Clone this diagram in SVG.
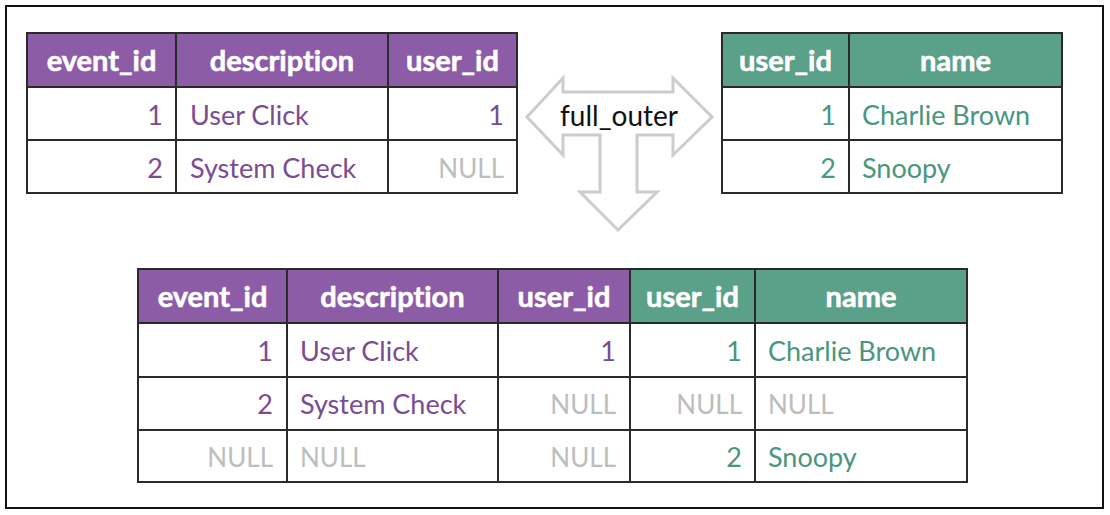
<svg xmlns="http://www.w3.org/2000/svg" width="1110" height="515" viewBox="0 0 1110 515">
<style>
.frame{fill:#fff;stroke:#111;stroke-width:2}
.cell{fill:#fff;stroke:#2a2a2a;stroke-width:2}
.hp{fill:#8c5ca6;stroke:#2a2a2a;stroke-width:2}
.hg{fill:#5ba088;stroke:#2a2a2a;stroke-width:2}
text{font-family:"Lato","Open Sans","Liberation Sans",sans-serif;font-size:27px;font-variant-ligatures:none}
.h{fill:#fff;font-weight:bold;text-anchor:middle;font-size:29px;stroke:#fff;stroke-width:0.6}
.p{fill:#7b4b94}
.g{fill:#489680}
.n{fill:#bdbdbd;font-size:26px}
.r{text-anchor:end}
.arrow{fill:#fff;stroke:#cccccc;stroke-width:3;stroke-linejoin:miter}
.lbl{fill:#111;text-anchor:middle;font-size:28px}
</style>
<rect class="frame" x="6" y="6" width="1097" height="502"/>

<g id="connectors">
<polygon class="arrow" points="527,117 563,78 563,92 673,92 673,78 712,117 673,155 673,135 637,135 637,192 657,192 618,230 580,192 600,192 600,135 563,135 563,155"/>
<text class="lbl" x="619" y="126">full_outer</text>
</g>

<g id="events">
<rect class="hp" x="27" y="33" width="149" height="54"/>
<rect class="hp" x="176" y="33" width="212" height="54"/>
<rect class="hp" x="388" y="33" width="129" height="54"/>
<rect class="cell" x="27" y="87" width="149" height="53"/>
<rect class="cell" x="176" y="87" width="212" height="53"/>
<rect class="cell" x="388" y="87" width="129" height="53"/>
<rect class="cell" x="27" y="140" width="149" height="53"/>
<rect class="cell" x="176" y="140" width="212" height="53"/>
<rect class="cell" x="388" y="140" width="129" height="53"/>
<text class="h" x="101.5" y="71">event_id</text>
<text class="h" x="282" y="71">description</text>
<text class="h" x="452.5" y="71">user_id</text>
<text class="p r" x="163" y="125">1</text>
<text class="p" x="190" y="125">User Click</text>
<text class="p r" x="504" y="125">1</text>
<text class="p r" x="163" y="178">2</text>
<text class="p" x="190" y="178">System Check</text>
<text class="n r" x="504" y="178">NULL</text>
</g>

<g id="users">
<rect class="hg" x="722" y="33" width="127" height="54"/>
<rect class="hg" x="849" y="33" width="213" height="54"/>
<rect class="cell" x="722" y="87" width="127" height="53"/>
<rect class="cell" x="849" y="87" width="213" height="53"/>
<rect class="cell" x="722" y="140" width="127" height="53"/>
<rect class="cell" x="849" y="140" width="213" height="53"/>
<text class="h" x="785.5" y="71">user_id</text>
<text class="h" x="955.5" y="71">name</text>
<text class="g r" x="836" y="125">1</text>
<text class="g" x="862" y="125">Charlie Brown</text>
<text class="g r" x="836" y="178">2</text>
<text class="g" x="862" y="178">Snoopy</text>
</g>

<g id="result">
<rect class="hp" x="138" y="269" width="149" height="54"/>
<rect class="hp" x="287" y="269" width="211" height="54"/>
<rect class="hp" x="498" y="269" width="132" height="54"/>
<rect class="hg" x="630" y="269" width="125" height="54"/>
<rect class="hg" x="755" y="269" width="212" height="54"/>
<rect class="cell" x="138" y="323" width="149" height="54"/>
<rect class="cell" x="287" y="323" width="211" height="54"/>
<rect class="cell" x="498" y="323" width="132" height="54"/>
<rect class="cell" x="630" y="323" width="125" height="54"/>
<rect class="cell" x="755" y="323" width="212" height="54"/>
<rect class="cell" x="138" y="377" width="149" height="53"/>
<rect class="cell" x="287" y="377" width="211" height="53"/>
<rect class="cell" x="498" y="377" width="132" height="53"/>
<rect class="cell" x="630" y="377" width="125" height="53"/>
<rect class="cell" x="755" y="377" width="212" height="53"/>
<rect class="cell" x="138" y="430" width="149" height="52"/>
<rect class="cell" x="287" y="430" width="211" height="52"/>
<rect class="cell" x="498" y="430" width="132" height="52"/>
<rect class="cell" x="630" y="430" width="125" height="52"/>
<rect class="cell" x="755" y="430" width="212" height="52"/>
<text class="h" x="212.5" y="307">event_id</text>
<text class="h" x="392.5" y="307">description</text>
<text class="h" x="564" y="307">user_id</text>
<text class="h" x="692.5" y="307">user_id</text>
<text class="h" x="861" y="307">name</text>
<text class="p r" x="273" y="361">1</text>
<text class="p" x="300" y="361">User Click</text>
<text class="p r" x="616" y="361">1</text>
<text class="g r" x="742" y="361">1</text>
<text class="g" x="768" y="361">Charlie Brown</text>
<text class="p r" x="273" y="414">2</text>
<text class="p" x="300" y="414">System Check</text>
<text class="n r" x="616" y="414">NULL</text>
<text class="n r" x="742" y="414">NULL</text>
<text class="n" x="768" y="414">NULL</text>
<text class="n r" x="273" y="467">NULL</text>
<text class="n" x="300" y="467">NULL</text>
<text class="n r" x="616" y="467">NULL</text>
<text class="g r" x="742" y="467">2</text>
<text class="g" x="768" y="467">Snoopy</text>
</g>
</svg>
